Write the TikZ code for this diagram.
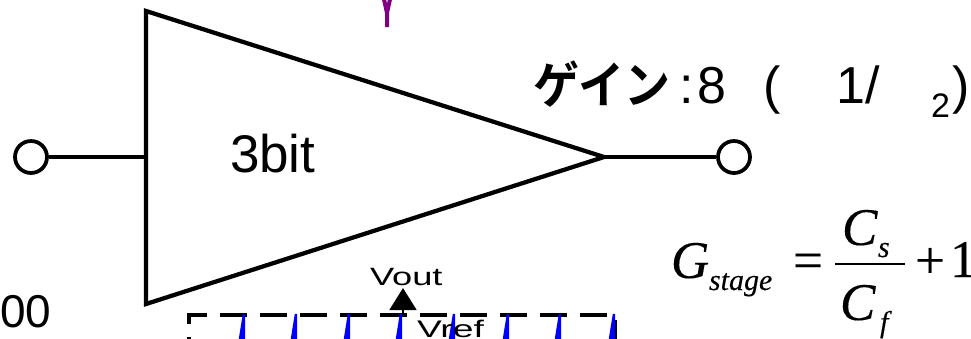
\documentclass[tikz,border=0pt]{standalone}
\usepackage{fontspec}
\usetikzlibrary{arrows.meta}
\setmainfont{Liberation Sans}
\newfontfamily\cjkfont[BoldFont={Noto Sans CJK JP Bold}]{Noto Sans CJK JP}
\newfontfamily\eqfont[FakeBold=0.25,ItalicFeatures={FakeBold=0.25}]{Liberation Serif}
\newdimen\pxu \pxu=0.75pt
\newcommand{\fsz}[1]{\fontsize{\dimexpr#1\pxu\relax}{\dimexpr#1\pxu\relax}\selectfont}
\newcommand{\hpx}[1]{\hspace*{\dimexpr#1\pxu\relax}}
\tikzset{
  heavy/.style={line width=3.2pt,black},
  port/.style={circle,draw=black,line width=2.8pt,fill=white,minimum size=24pt,inner sep=0pt},
  lbl/.style={anchor=base west,inner sep=0pt,outer sep=0pt,text=black},
  spike/.style={blue,fill=blue,line width=1.8pt,line join=bevel},
  dashbox/.style={line width=3pt,dash pattern=on 20.25pt off 9.75pt},
}
\begin{document}
\begin{tikzpicture}[x=0.75pt,y=-0.75pt]
\useasboundingbox (0,0) rectangle (971,339);
\clip (0,0) rectangle (971,339);
% purple fragment
\coordinate (yl) at (383.5,-3); \coordinate (yr) at (390.5,-3);
\coordinate (yj) at (387,13); \coordinate (ye) at (387,27);
\draw[line width=3pt,color={rgb,255:red,128;green,0;blue,128}] (yl)--(yj)--(yr) (yj)--(ye);
% amplifier
\coordinate (ta) at (146,11); \coordinate (tb) at (146,304); \coordinate (tc) at (604,157);
\coordinate (tin) at (146,157);
\draw[heavy,line join=miter] (ta)--(tb)--(tc)--cycle;
\node[port] (pin) at (31,157) {};
\node[port] (pout) at (734,157) {};
\draw[heavy] (pin)--(tin);
\draw[heavy] (tc)--(pout);
\node[lbl] (bits) at (230,172) {\fsz{53}3bit};
\node[lbl] (gain) at (533,103) {\fsz{52}{\cjkfont\bfseries\fsz{50}\scalebox{0.92}[1]{ゲイン}}\hpx{9}:\hpx{4}8\hpx{37}(\hpx{56}1/\hpx{51}\raisebox{-10.5pt}{\fsz{34}2}\hpx{2})};
\node[lbl] (zz) at (0,327) {\fsz{46}00};
% equation
\node[lbl] (eqG) at (671,278) {\eqfont\fsz{53}\itshape G};
\node[lbl] (eqs) at (709,290) {\eqfont\fsz{30}\itshape stage};
\node[lbl] (eqe) at (793,278) {\eqfont\fsz{53}=};
\node[lbl] (eqCs) at (842,245) {\eqfont\fsz{53}\itshape C};
\node[lbl] (eqss) at (878,257) {\eqfont\fsz{30}\itshape s};
\node[lbl] (eqCf) at (840,320) {\eqfont\fsz{53}\itshape C};
\node[lbl] (eqf) at (880,332) {\eqfont\fsz{30}\itshape f};
\node[lbl] (eqp) at (915,278) {\eqfont\fsz{53}+};
\node[lbl] (eqo) at (950,277) {\eqfont\fsz{53}\makebox[15pt][l]{1}};
\coordinate (fl) at (835,264); \coordinate (fr) at (905,264);
\draw[line width=1.5pt] (fl)--(fr);
% dashed block
\coordinate (d0) at (189,364); \coordinate (d1) at (189,315);
\coordinate (d2) at (615,315); \coordinate (d3) at (615,400);
\draw[dashbox] (d0)--(d1)--(d2)--(d3);
% blue waveform
\foreach \i/\x in {0/244,1/296,2/349,3/401,4/454,5/508,6/560,7/614}{
  \coordinate (sl\i) at (\x-5,345); \coordinate (st\i) at (\x,314); \coordinate (sr\i) at (\x,345);
  \draw[spike] (sl\i)--(st\i)--(sr\i);
}
% Vout arrow
\coordinate (af) at (403,316); \coordinate (at) at (403,288);
\draw[line width=2.2pt,-{Triangle[length=16.5pt,width=20pt]}] (af)--(at);
\node[lbl] (vout) at (370,285) {\fsz{25}\scalebox{1.45}[1]{Vout}};
\node[lbl] (vref) at (417,337) {\fsz{24}\scalebox{1.55}[1]{Vref}};
\end{tikzpicture}
\end{document}
